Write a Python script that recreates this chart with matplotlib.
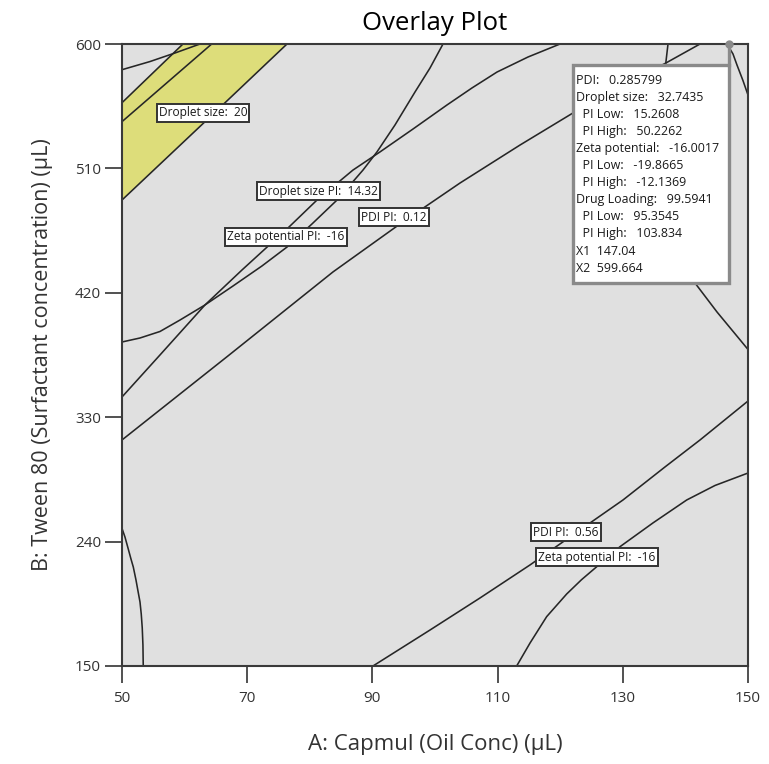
"""Overlay plot of the design space: Capmul (oil) vs Tween 80 (surfactant).

Contour boundaries for each response are drawn as traced polylines, the
feasible window is shaded yellow and the flagged point is annotated with
its predicted responses.
"""

import matplotlib

matplotlib.use("Agg")
import matplotlib.pyplot as plt
from matplotlib.patches import Rectangle

plt.rcParams["font.family"] = ["Open Sans", "DejaVu Sans"]

# axis ticks
x_ticks = [50, 70, 90, 110, 130, 150]
y_ticks = [150, 240, 330, 420, 510, 600]

# yellow window: upper and lower boundaries (oil, surfactant)
window_upper_x = [50.0, 59.74]
window_upper_y = [557.5, 600.0]
window_lower_x = [50.0, 63.2, 76.36]
window_lower_y = [487.1, 543.5, 600.0]

# droplet size contour crossing the window
drop_inner_x = [50.0, 64.33]
drop_inner_y = [543.8, 600.0]

# short contour at the upper left corner
corner_x = [50.0, 54.47, 58.47, 62.46]
corner_y = [581.4, 587.3, 593.5, 600.0]

# droplet size PI / zeta potential PI pair (they cross twice)
drop_pi_x = [50.0, 52.88, 56.07, 59.27, 63.26, 67.73, 72.36, 76.36, 80.35, 84.35,
             88.50, 90.73, 93.61, 96.81, 99.20, 101.28]
drop_pi_y = [384.4, 387.3, 392.0, 400.3, 411.2, 424.9, 439.4, 453.1, 469.8, 487.1,
             508.8, 521.9, 541.4, 565.3, 582.6, 600.0]
zeta_pi_x = [50.0, 56.07, 63.26, 69.17, 76.52, 81.15, 86.90, 91.21, 96.49, 101.92,
             105.91, 109.90, 114.86, 119.97]
zeta_pi_y = [344.6, 375.0, 411.2, 436.5, 466.9, 487.1, 508.8, 521.9, 538.5, 555.9,
             568.2, 579.7, 590.6, 600.0]

# PDI PI 0.12
pdi_low_x = [50.0, 66.93, 83.71, 94.41, 103.99, 113.58, 122.04, 129.55, 136.90, 142.33]
pdi_low_y = [313.5, 374.3, 435.1, 469.8, 499.4, 526.9, 550.1, 568.9, 586.3, 600.0]

# upper right corner contour
corner_r_x = [146.65, 147.60, 148.24, 149.20, 150.0]
corner_r_y = [600.0, 592.8, 584.8, 573.5, 563.1]

# right-hand arc
arc_r_x = [137.22, 136.74, 136.58, 136.90, 137.86, 139.46, 141.53, 145.05, 150.0]
arc_r_y = [600.0, 581.2, 559.5, 523.3, 487.1, 454.6, 427.1, 406.1, 379.0]

# PDI PI 0.56
pdi_high_x = [90.10, 99.20, 107.19, 115.18, 123.16, 130.03, 136.74, 142.33, 150.0]
pdi_high_y = [150.0, 176.0, 199.2, 223.1, 248.4, 270.1, 294.0, 313.5, 341.7]

# zeta potential PI -16 (lower branch)
zeta_low_x = [113.05, 115.18, 117.84, 121.04, 123.40, 125.83, 129.55, 134.82, 140.21,
              144.73, 150.0]
zeta_low_y = [150.0, 166.6, 185.7, 202.1, 212.4, 221.8, 236.3, 253.5, 270.1, 280.6,
              289.6]

# lower left arc
arc_l_x = [50.0, 50.48, 50.96, 51.44, 51.81, 52.24, 52.56, 52.88, 53.08, 53.24, 53.35,
           53.40]
arc_l_y = [249.6, 243.3, 235.4, 227.4, 221.6, 212.2, 204.2, 196.3, 187.6, 177.5, 165.2,
           150.0]

# contour labels: (text, x, y)
label_text = [
    "Droplet size:  20",
    "Droplet size PI:  14.32",
    "Zeta potential PI:  -16",
    "PDI PI:  0.12",
    "PDI PI:  0.56",
    "Zeta potential PI:  -16",
]
label_x = [62.94, 81.39, 76.20, 93.45, 120.93, 125.88]
label_y = [550.1, 493.6, 460.4, 474.8, 246.9, 228.8]

# flagged point and its predictions
flag_x = 147.04
flag_y = 599.664
flag_lines = [
    "PDI:   0.285799",
    "Droplet size:   32.7435",
    "  PI Low:   15.2608",
    "  PI High:   50.2262",
    "Zeta potential:   -16.0017",
    "  PI Low:   -19.8665",
    "  PI High:   -12.1369",
    "Drug Loading:   99.5941",
    "  PI Low:   95.3545",
    "  PI High:   103.834",
    "X1  147.04",
    "X2  599.664",
]

LINE_COLOR = "#262626"


def draw(ax):
    ax.set_facecolor("#e0e0e0")

    # feasible window
    win_x = window_lower_x + window_upper_x[::-1]
    win_y = window_lower_y + window_upper_y[::-1]
    ax.fill(win_x, win_y, color="#dddd7a", lw=0, zorder=1)

    curves = [
        (window_upper_x, window_upper_y),
        (window_lower_x, window_lower_y),
        (drop_inner_x, drop_inner_y),
        (corner_x, corner_y),
        (drop_pi_x, drop_pi_y),
        (zeta_pi_x, zeta_pi_y),
        (pdi_low_x, pdi_low_y),
        (corner_r_x, corner_r_y),
        (arc_r_x, arc_r_y),
        (pdi_high_x, pdi_high_y),
        (zeta_low_x, zeta_low_y),
        (arc_l_x, arc_l_y),
    ]
    for cx, cy in curves:
        ax.plot(cx, cy, color=LINE_COLOR, lw=1.15, zorder=2, solid_joinstyle="round")

    for text, lx, ly in zip(label_text, label_x, label_y):
        ax.text(lx, ly, text, ha="center", va="center", fontsize=8.6, zorder=4,
                color="#1a1a1a",
                bbox=dict(boxstyle="square,pad=0.18", fc="white", ec="#333333", lw=1.4))

    # flag box
    box_left, box_bottom, box_top = 122.04, 427.1, 584.8
    ax.add_patch(Rectangle((box_left, box_bottom), flag_x - box_left, box_top - box_bottom,
                           fc="white", ec="#8a8a8a", lw=2.4, zorder=5))
    ax.plot([flag_x, flag_x], [box_top, flag_y], color="#8a8a8a", lw=2.4, zorder=5,
            clip_on=False)
    ax.plot([flag_x], [flag_y], "o", color="#8a8a8a", ms=5, zorder=6, clip_on=False)
    for i, line in enumerate(flag_lines):
        ax.annotate(line, (box_left, box_top), xytext=(3, -15 - i * 17.1),
                    textcoords="offset pixels", ha="left", va="center",
                    fontsize=8.9, color="#1a1a1a", zorder=7)

    ax.set_xlim(50, 150)
    ax.set_ylim(150, 600)
    ax.set_xticks(x_ticks)
    ax.set_yticks(y_ticks)
    ax.tick_params(axis="both", direction="out", length=12, width=1.2,
                   color="#333333", labelsize=11, labelcolor="#333333")
    ax.tick_params(axis="x", pad=6)
    ax.tick_params(axis="y", pad=3)
    for side in ax.spines.values():
        side.set_color("#3a3a3a")
        side.set_linewidth(1.5)

    ax.set_xlabel("A: Capmul (Oil Conc) (\u00b5L)", fontsize=16, color="#333333",
                  labelpad=20)
    ax.set_ylabel("B: Tween 80 (Surfactant concentration) (\u00b5L)", fontsize=15.5,
                  color="#333333", labelpad=16)
    ax.set_title("Overlay Plot", fontsize=18.5, pad=10)


if __name__ == "__main__":
    fig = plt.figure(figsize=(7.69, 7.64), dpi=100)
    ax = fig.add_axes([0.1586, 0.1283, 0.8141, 0.8141])
    draw(ax)
    fig.savefig("out.png", dpi=100, facecolor="white")
